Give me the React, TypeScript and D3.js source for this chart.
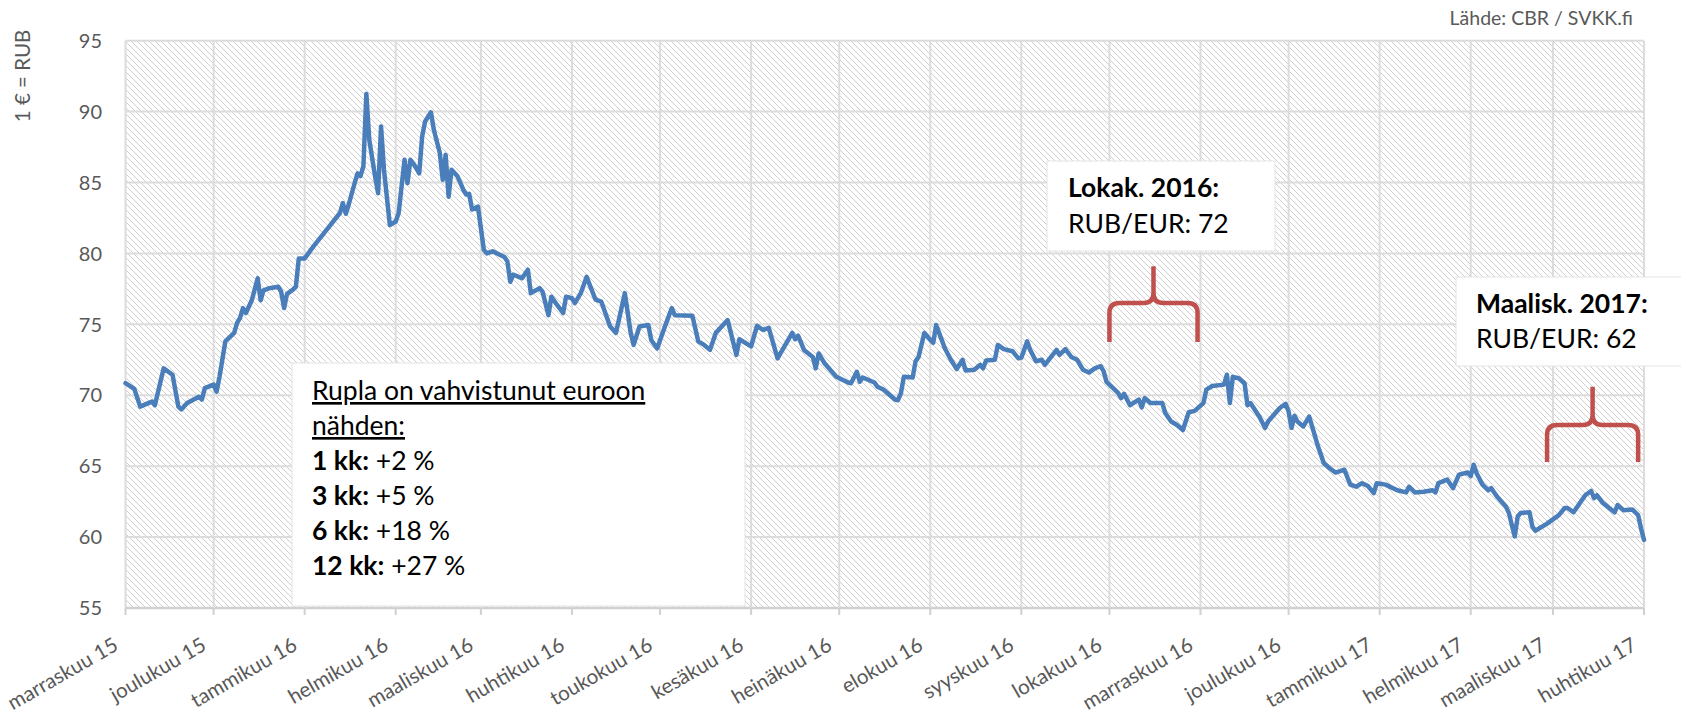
import React from "react";
import * as d3 from "d3";

// Month labels along the x axis (one per month start)
const monthLabels = [
  "marraskuu 15", "joulukuu 15", "tammikuu 16", "helmikuu 16", "maaliskuu 16",
  "huhtikuu 16", "toukokuu 16", "kesäkuu 16", "heinäkuu 16", "elokuu 16",
  "syyskuu 16", "lokakuu 16", "marraskuu 16", "joulukuu 16", "tammikuu 17",
  "helmikuu 17", "maaliskuu 17", "huhtikuu 17",
];

const yTicks = [55, 60, 65, 70, 75, 80, 85, 90, 95];

// RUB per 1 EUR
const rubEur: [string, number][] = [
  ["2015-11-01", 70.85], ["2015-11-04", 70.45], ["2015-11-06", 69.2], ["2015-11-10", 69.55],
  ["2015-11-11", 69.3], ["2015-11-14", 71.9], ["2015-11-17", 71.45], ["2015-11-19", 69.2],
  ["2015-11-20", 69.0], ["2015-11-22", 69.45], ["2015-11-26", 69.9], ["2015-11-27", 69.7],
  ["2015-11-28", 70.5], ["2015-12-01", 70.75], ["2015-12-02", 70.25], ["2015-12-03", 71.3],
  ["2015-12-05", 73.8], ["2015-12-08", 74.4], ["2015-12-09", 75.1], ["2015-12-10", 75.45],
  ["2015-12-11", 76.15], ["2015-12-12", 75.8], ["2015-12-14", 76.7], ["2015-12-16", 78.25],
  ["2015-12-17", 76.7], ["2015-12-18", 77.4], ["2015-12-20", 77.55], ["2015-12-23", 77.65],
  ["2015-12-24", 77.3], ["2015-12-25", 76.15], ["2015-12-26", 77.15], ["2015-12-28", 77.45],
  ["2015-12-29", 77.65], ["2015-12-30", 79.65], ["2016-01-01", 79.65], ["2016-01-04", 80.5],
  ["2016-01-09", 81.8], ["2016-01-13", 82.85], ["2016-01-14", 83.55], ["2016-01-15", 82.8],
  ["2016-01-16", 83.45], ["2016-01-18", 84.95], ["2016-01-19", 85.65], ["2016-01-20", 85.45],
  ["2016-01-21", 86.15], ["2016-01-22", 91.25], ["2016-01-23", 88.0], ["2016-01-25", 85.4],
  ["2016-01-26", 84.25], ["2016-01-27", 88.95], ["2016-01-28", 85.9], ["2016-01-30", 82.0],
  ["2016-02-01", 82.25], ["2016-02-02", 82.85], ["2016-02-04", 86.6], ["2016-02-05", 84.95],
  ["2016-02-06", 86.6], ["2016-02-07", 86.35], ["2016-02-09", 85.65], ["2016-02-10", 88.25],
  ["2016-02-11", 89.3], ["2016-02-13", 89.95], ["2016-02-14", 88.7], ["2016-02-16", 87.1],
  ["2016-02-17", 85.2], ["2016-02-18", 86.95], ["2016-02-19", 84.0], ["2016-02-20", 85.9],
  ["2016-02-22", 85.45], ["2016-02-24", 84.5], ["2016-02-25", 84.15], ["2016-02-26", 84.2],
  ["2016-02-27", 83.1], ["2016-02-29", 83.3], ["2016-03-02", 80.25], ["2016-03-03", 80.0],
  ["2016-03-05", 80.15], ["2016-03-09", 79.75], ["2016-03-10", 79.45], ["2016-03-11", 78.0],
  ["2016-03-12", 78.5], ["2016-03-15", 78.25], ["2016-03-17", 78.85], ["2016-03-18", 77.2],
  ["2016-03-21", 77.55], ["2016-03-22", 77.3], ["2016-03-24", 75.65], ["2016-03-25", 76.95],
  ["2016-03-27", 76.35], ["2016-03-29", 75.8], ["2016-03-30", 76.95], ["2016-04-01", 76.85],
  ["2016-04-02", 76.5], ["2016-04-04", 77.2], ["2016-04-06", 78.35], ["2016-04-09", 76.75],
  ["2016-04-11", 76.6], ["2016-04-14", 74.85], ["2016-04-16", 74.4], ["2016-04-19", 77.2],
  ["2016-04-21", 74.4], ["2016-04-22", 73.55], ["2016-04-24", 74.85], ["2016-04-27", 74.95],
  ["2016-04-28", 73.9], ["2016-04-30", 73.3], ["2016-05-03", 75.05], ["2016-05-05", 76.15],
  ["2016-05-06", 75.65], ["2016-05-12", 75.6], ["2016-05-14", 73.8], ["2016-05-16", 73.55],
  ["2016-05-18", 73.2], ["2016-05-20", 74.4], ["2016-05-24", 75.3], ["2016-05-27", 72.85],
  ["2016-05-28", 73.95], ["2016-06-01", 73.45], ["2016-06-03", 74.9], ["2016-06-05", 74.6],
  ["2016-06-07", 74.75], ["2016-06-10", 72.6], ["2016-06-15", 74.4], ["2016-06-16", 73.95],
  ["2016-06-17", 74.2], ["2016-06-19", 73.2], ["2016-06-22", 72.7], ["2016-06-23", 71.9],
  ["2016-06-24", 72.95], ["2016-06-26", 72.25], ["2016-06-30", 71.3], ["2016-07-04", 70.9],
  ["2016-07-05", 70.85], ["2016-07-07", 71.65], ["2016-07-08", 70.95], ["2016-07-09", 71.25],
  ["2016-07-13", 70.9], ["2016-07-14", 70.6], ["2016-07-16", 70.4], ["2016-07-20", 69.7],
  ["2016-07-21", 69.65], ["2016-07-22", 70.15], ["2016-07-23", 71.3], ["2016-07-26", 71.25],
  ["2016-07-27", 72.4], ["2016-07-28", 72.7], ["2016-07-30", 74.4], ["2016-08-01", 73.9],
  ["2016-08-02", 73.7], ["2016-08-03", 74.95], ["2016-08-04", 74.4], ["2016-08-06", 73.3],
  ["2016-08-08", 72.5], ["2016-08-10", 71.85], ["2016-08-12", 72.5], ["2016-08-13", 71.75],
  ["2016-08-16", 71.8], ["2016-08-18", 72.15], ["2016-08-19", 71.9], ["2016-08-20", 72.45],
  ["2016-08-23", 72.5], ["2016-08-24", 73.55], ["2016-08-26", 73.25], ["2016-08-29", 73.1],
  ["2016-08-31", 72.6], ["2016-09-01", 72.65], ["2016-09-03", 73.8], ["2016-09-04", 73.2],
  ["2016-09-06", 72.4], ["2016-09-08", 72.5], ["2016-09-09", 72.15], ["2016-09-13", 73.2],
  ["2016-09-14", 72.85], ["2016-09-16", 73.25], ["2016-09-18", 72.7], ["2016-09-20", 72.5],
  ["2016-09-22", 71.8], ["2016-09-24", 71.6], ["2016-09-26", 71.9], ["2016-09-28", 72.05],
  ["2016-09-29", 71.7], ["2016-09-30", 70.95], ["2016-10-02", 70.55], ["2016-10-04", 70.15],
  ["2016-10-05", 69.8], ["2016-10-06", 70.1], ["2016-10-08", 69.3], ["2016-10-11", 69.7],
  ["2016-10-12", 69.15], ["2016-10-13", 69.8], ["2016-10-15", 69.45], ["2016-10-19", 69.45],
  ["2016-10-20", 68.75], ["2016-10-22", 68.15], ["2016-10-24", 67.9], ["2016-10-26", 67.55],
  ["2016-10-28", 68.8], ["2016-10-30", 68.9], ["2016-11-02", 69.45], ["2016-11-03", 70.4],
  ["2016-11-05", 70.65], ["2016-11-09", 70.75], ["2016-11-10", 71.45], ["2016-11-11", 69.45],
  ["2016-11-12", 71.3], ["2016-11-14", 71.2], ["2016-11-16", 70.85], ["2016-11-17", 69.3],
  ["2016-11-18", 69.45], ["2016-11-21", 68.5], ["2016-11-23", 67.7], ["2016-11-24", 68.15],
  ["2016-11-28", 69.1], ["2016-11-30", 69.4], ["2016-12-01", 68.85], ["2016-12-02", 67.7],
  ["2016-12-03", 68.55], ["2016-12-04", 68.15], ["2016-12-06", 67.8], ["2016-12-08", 68.5],
  ["2016-12-09", 67.8], ["2016-12-11", 66.4], ["2016-12-13", 65.2], ["2016-12-15", 64.85],
  ["2016-12-17", 64.55], ["2016-12-20", 64.75], ["2016-12-22", 63.7], ["2016-12-24", 63.55],
  ["2016-12-26", 63.8], ["2016-12-28", 63.6], ["2016-12-30", 63.1], ["2016-12-31", 63.8],
  ["2017-01-03", 63.7], ["2017-01-07", 63.3], ["2017-01-10", 63.15], ["2017-01-11", 63.55],
  ["2017-01-13", 63.15], ["2017-01-16", 63.2], ["2017-01-19", 63.3], ["2017-01-20", 63.15],
  ["2017-01-21", 63.8], ["2017-01-24", 64.05], ["2017-01-26", 63.45], ["2017-01-28", 64.4],
  ["2017-01-31", 64.55], ["2017-02-01", 64.3], ["2017-02-02", 65.1], ["2017-02-03", 64.5],
  ["2017-02-05", 63.7], ["2017-02-07", 63.3], ["2017-02-08", 63.45], ["2017-02-10", 62.85],
  ["2017-02-13", 62.15], ["2017-02-14", 61.7], ["2017-02-15", 60.85], ["2017-02-16", 60.05],
  ["2017-02-17", 61.45], ["2017-02-18", 61.7], ["2017-02-21", 61.75], ["2017-02-22", 60.75],
  ["2017-02-23", 60.45], ["2017-02-27", 60.95], ["2017-03-03", 61.55], ["2017-03-05", 62.05],
  ["2017-03-06", 62.05], ["2017-03-08", 61.75], ["2017-03-12", 62.95], ["2017-03-14", 63.25],
  ["2017-03-15", 62.75], ["2017-03-16", 62.95], ["2017-03-18", 62.4], ["2017-03-22", 61.75],
  ["2017-03-23", 62.25], ["2017-03-25", 61.9], ["2017-03-28", 61.95], ["2017-03-30", 61.55],
  ["2017-03-31", 60.6], ["2017-04-01", 59.8],
];

// text box content
const headLines = ["Rupla on vahvistunut euroon", "nähden:"];
const changeLabels = ["1 kk:", "3 kk:", "6 kk:", "12 kk:"];
const changeValues = ["+2 %", "+5 %", "+18 %", "+27 %"];
const octNote = ["Lokak. 2016:", "RUB/EUR: 72"];
const marNote = ["Maalisk. 2017:", "RUB/EUR: 62"];

const parseDate = d3.utcParse("%Y-%m-%d");

const FONT = "Lato, 'Open Sans', sans-serif";
const TICK_COLOR = "#595959";
const GRID = "#dcdcdc";
const NOTE_SIZE = 26.5;

// curly brace over a month span
function bracePath(x1: number, x2: number, yBottom: number, yMid: number, yTop: number) {
  const r = 10;
  const xc = (x1 + x2) / 2;
  return [
    `M${x1},${yBottom} L${x1},${yMid + r} Q${x1},${yMid} ${x1 + r},${yMid}`,
    `L${xc - r},${yMid} Q${xc},${yMid} ${xc},${yMid - r} L${xc},${yTop}`,
    `M${xc},${yMid - r} Q${xc},${yMid} ${xc + r},${yMid}`,
    `L${x2 - r},${yMid} Q${x2},${yMid} ${x2},${yMid + r} L${x2},${yBottom}`,
  ].join(" ");
}

export default function App() {
  const width = 1681;
  const height = 718;
  const margin = { top: 40.7, right: 37, bottom: 110, left: 125.5 };
  const plotBottom = height - margin.bottom;
  const plotRight = width - margin.right;

  const start = parseDate("2015-11-01") as Date;
  const end = parseDate("2017-04-01") as Date;

  const x = d3.scaleUtc().domain([start, end]).range([margin.left, plotRight]);
  const y = d3.scaleLinear().domain([55, 95]).range([plotBottom, margin.top]);

  const months = d3.utcMonth.range(start, d3.utcDay.offset(end, 1));

  const data = rubEur.map(([d, v]) => ({ date: parseDate(d) as Date, value: v }));
  const line = d3
    .line<{ date: Date; value: number }>()
    .x((d) => x(d.date))
    .y((d) => y(d.value));

  const octX1 = x(parseDate("2016-10-01") as Date);
  const octX2 = x(parseDate("2016-10-31") as Date);
  const marX1 = x(parseDate("2017-02-27") as Date);
  const marX2 = x(parseDate("2017-03-30") as Date);

  return (
    <svg
      width={width}
      height={height}
      style={{ position: "absolute", left: 0, top: 0, display: "block", background: "#fff" }}
      fontFamily={FONT}
    >
      <defs>
        <pattern id="hatch" width={6} height={6} patternUnits="userSpaceOnUse">
          <rect width={6} height={6} fill="#fff" />
          {[0, 1, 2, 3, 4, 5].map((i) => (
            <rect key={i} x={i} y={i} width={1} height={1} fill="#cfcfcf" />
          ))}
        </pattern>
      </defs>

      {/* plot area background */}
      <rect
        x={margin.left}
        y={margin.top}
        width={plotRight - margin.left}
        height={plotBottom - margin.top}
        fill="url(#hatch)"
      />

      {/* horizontal gridlines */}
      {yTicks.map((t) => (
        <line
          key={t}
          x1={margin.left}
          x2={plotRight}
          y1={y(t)}
          y2={y(t)}
          stroke={t === 55 ? "#d0d0d0" : GRID}
          strokeWidth={t === 55 ? 2.5 : 2}
        />
      ))}

      {/* vertical gridlines + ticks */}
      {months.map((m, i) => (
        <g key={i}>
          <line x1={x(m)} x2={x(m)} y1={margin.top} y2={plotBottom} stroke={GRID} strokeWidth={2} />
          <line x1={x(m)} x2={x(m)} y1={plotBottom} y2={plotBottom + 7} stroke="#d0d0d0" strokeWidth={2} />
        </g>
      ))}

      {/* y tick labels */}
      {yTicks.map((t) => (
        <text key={t} x={102} y={y(t)} dy="0.36em" textAnchor="end" fontSize={20} fill={TICK_COLOR}>
          {t}
        </text>
      ))}

      {/* x tick labels */}
      {months.map((m, i) => (
        <text
          key={i}
          transform={`translate(${x(m) - 6},${plotBottom + 41}) rotate(-30)`}
          textAnchor="end"
          fontSize={20.5}
          fill={TICK_COLOR}
        >
          {monthLabels[i]}
        </text>
      ))}

      {/* y axis title */}
      <text transform="translate(29.5,76) rotate(-90)" textAnchor="middle" fontSize={20.5} fill={TICK_COLOR}>
        1 € = RUB
      </text>

      {/* source */}
      <text x={1633} y={25} textAnchor="end" fontSize={19.5} fill={TICK_COLOR}>
        Lähde: CBR / SVKK.fi
      </text>

      {/* the series */}
      <path
        d={line(data) ?? ""}
        fill="none"
        stroke="#4a7ebb"
        strokeWidth={4.5}
        strokeLinejoin="round"
        strokeLinecap="round"
      />

      {/* braces */}
      <path d={bracePath(octX1, octX2, y(73.75), y(76.5), y(79.1))} fill="none" stroke="#c0504d" strokeWidth={4.5} />
      <path d={bracePath(marX1, marX2, y(65.3), y(67.9), y(70.6))} fill="none" stroke="#c0504d" strokeWidth={4.5} />

      {/* summary box */}
      <rect x={292} y={363} width={453} height={243} fill="#fff" stroke="#e4e4e4" strokeWidth={1} />
      {headLines.map((t, i) => (
        <text key={t} x={312} y={400 + i * 35} fontSize={NOTE_SIZE} fill="#000" textDecoration="underline">
          {t}
        </text>
      ))}
      {changeLabels.map((t, i) => (
        <text key={t} x={312} y={470 + i * 35} fontSize={NOTE_SIZE} fill="#000">
          <tspan fontWeight="bold">{t}</tspan>
          <tspan> {changeValues[i]}</tspan>
        </text>
      ))}

      {/* October note */}
      <rect x={1047} y={161} width={228} height={90} fill="#fff" stroke="#e4e4e4" strokeWidth={1} />
      <text x={1068} y={197} fontSize={NOTE_SIZE} fontWeight="bold" fill="#000">
        {octNote[0]}
      </text>
      <text x={1068} y={233} fontSize={NOTE_SIZE} fill="#000">
        {octNote[1]}
      </text>

      {/* March note */}
      <rect x={1456} y={277} width={240} height={89} fill="#fff" stroke="#e4e4e4" strokeWidth={1} />
      <text x={1476} y={313} fontSize={NOTE_SIZE} fontWeight="bold" fill="#000">
        {marNote[0]}
      </text>
      <text x={1476} y={348} fontSize={NOTE_SIZE} fill="#000">
        {marNote[1]}
      </text>
    </svg>
  );
}
